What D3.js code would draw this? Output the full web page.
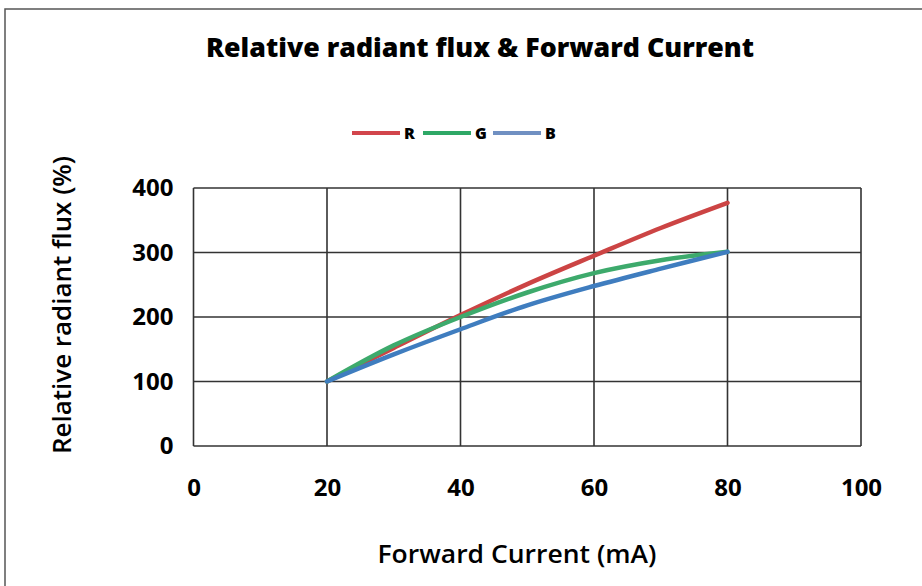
<!DOCTYPE html>
<html><head><meta charset="utf-8">
<script src="https://cdn.jsdelivr.net/npm/d3@7"></script>
<style>body{margin:0;background:#fff}svg{display:block}text{font-family:"Open Sans","Noto Sans",sans-serif}</style>
</head><body><svg id="c" width="922" height="586"></svg>
<script>
const currents = [20, 30, 40, 50, 60, 70, 80];
const seriesR = [100, 152, 203, 251, 295, 338, 377];
const seriesG = [100, 156, 200, 238, 268, 288, 301];
const seriesB = [100, 142, 181, 218, 248, 275, 301];
const seriesNames = ["R", "G", "B"];
const xTicks = [0, 20, 40, 60, 80, 100];
const yTicks = [0, 100, 200, 300, 400];
const titleText = "Relative radiant flux & Forward Current";
const xTitle = "Forward Current (mA)";
const yTitle = "Relative radiant flux (%)";

const colors = {R: "#CC4444", G: "#3DAA6C", B: "#3F7DBF"};
const legendColors = {R: "#D2454C", G: "#2EA866", B: "#7090C2"};
const data = {R: seriesR, G: seriesG, B: seriesB};

const svg = d3.select("#c");
svg.append("rect").attr("x", 5).attr("y", 9).attr("width", 940).attr("height", 600)
  .attr("fill", "none").attr("stroke", "#555").attr("stroke-width", 1.5);

const L = 193.5, R = 861, T = 188, B = 446;
const x = d3.scaleLinear().domain([0, 100]).range([L, R]);
const y = d3.scaleLinear().domain([0, 400]).range([B, T]);

// grid
const g = svg.append("g");
g.selectAll(".vx").data(xTicks).join("line")
  .attr("x1", d => x(d)).attr("x2", d => x(d)).attr("y1", T).attr("y2", B)
  .attr("stroke", "#333").attr("stroke-width", 1.6);
g.selectAll(".hy").data(yTicks).join("line")
  .attr("y1", d => y(d)).attr("y2", d => y(d)).attr("x1", L).attr("x2", R)
  .attr("stroke", "#333").attr("stroke-width", 1.6);

// axes labels via d3 axes
const xAxis = svg.append("g").attr("transform", `translate(0,${B})`)
  .call(d3.axisBottom(x).tickValues(xTicks).tickSize(0).tickPadding(33));
xAxis.select(".domain").remove();
xAxis.selectAll("text").attr("font-size", 24).attr("font-weight", 700).attr("fill", "#000")
  .attr("font-family", "'Open Sans','Noto Sans',sans-serif");
const yAxis = svg.append("g").attr("transform", `translate(${L},0)`)
  .call(d3.axisLeft(y).tickValues(yTicks).tickSize(0).tickPadding(20));
yAxis.select(".domain").remove();
yAxis.selectAll("text").attr("font-size", 24).attr("font-weight", 700).attr("fill", "#000")
  .attr("font-family", "'Open Sans','Noto Sans',sans-serif");

// lines
const line = d3.line().x((d, i) => x(currents[i])).y(d => y(d)).curve(d3.curveCatmullRom.alpha(0.5));
seriesNames.forEach(n => {
  svg.append("path").datum(data[n]).attr("d", line).attr("fill", "none")
    .attr("stroke", colors[n]).attr("stroke-width", 4.5).attr("stroke-linecap", "round");
});

// title
svg.append("text").attr("x", 480).attr("y", 57).attr("text-anchor", "middle")
  .attr("font-size", 26).attr("font-weight", 800).attr("textLength", 548).attr("lengthAdjust", "spacingAndGlyphs")
  .text(titleText);

// legend
const lg = svg.append("g");
const legX = [352, 423, 493];
seriesNames.forEach((n, i) => {
  lg.append("line").attr("x1", legX[i]).attr("x2", legX[i] + 48).attr("y1", 133).attr("y2", 133)
    .attr("stroke", legendColors[n]).attr("stroke-width", 4);
  lg.append("text").attr("x", legX[i] + 52).attr("y", 139).attr("font-size", 16).attr("font-weight", 800)
    .text(n);
});

// axis titles
svg.append("text").attr("x", 517).attr("y", 563).attr("text-anchor", "middle")
  .attr("font-size", 26).attr("font-weight", 600).attr("textLength", 279).attr("lengthAdjust", "spacingAndGlyphs")
  .text(xTitle);
svg.append("text").attr("transform", "translate(71,305) rotate(-90)").attr("text-anchor", "middle")
  .attr("font-size", 26).attr("font-weight", 600).attr("textLength", 298).attr("lengthAdjust", "spacingAndGlyphs")
  .text(yTitle);
</script></body></html>
